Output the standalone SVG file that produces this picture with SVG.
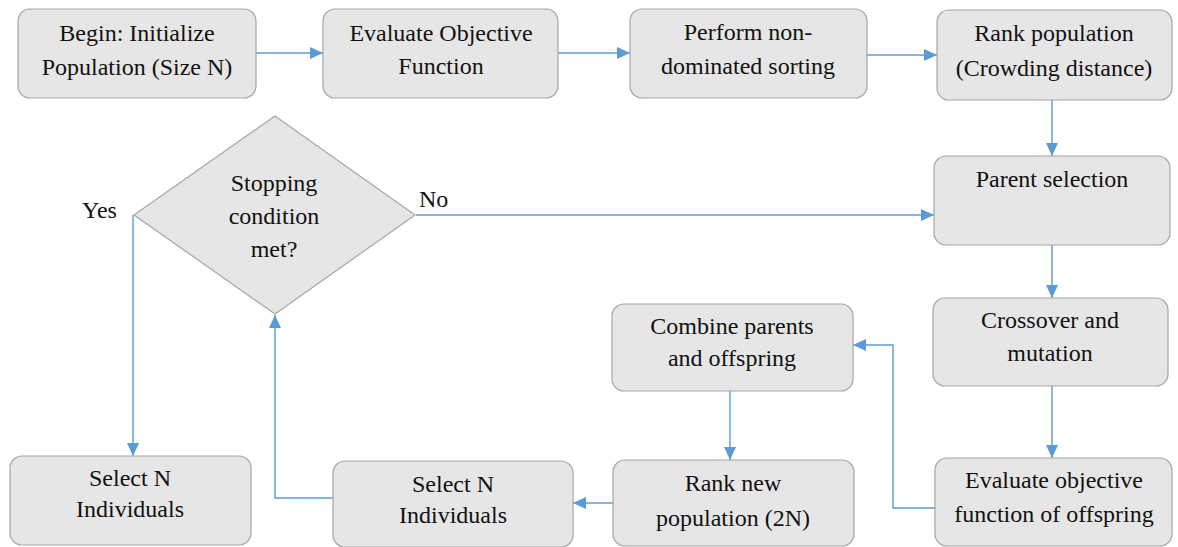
<svg xmlns="http://www.w3.org/2000/svg" width="1178" height="547" viewBox="0 0 1178 547">
  <style>
    .box { fill: #e6e6e6; stroke: #a6a6a6; stroke-width: 1.2; }
    .lbl { text-anchor: middle; }
    .link { fill: none; stroke: #5b9bd5; stroke-width: 1.4; }
  </style>
  <defs>
    <marker id="arrow" markerUnits="userSpaceOnUse" markerWidth="14" markerHeight="12" refX="13" refY="6" orient="auto">
      <path d="M0,0 L13,6 L0,12 Z" fill="#5b9bd5"/>
    </marker>
  </defs>
  <rect width="1178" height="547" fill="#ffffff"/>

  <!-- all labels share one serif stack -->
  <g font-family="'Liberation Serif', 'Times New Roman', serif" font-size="24" fill="#111">
  <g id="connectors">
    <line class="link" x1="256" y1="53" x2="323" y2="53" marker-end="url(#arrow)"/>
    <line class="link" x1="558" y1="53" x2="630" y2="53" marker-end="url(#arrow)"/>
    <line class="link" x1="867" y1="55" x2="937" y2="55" marker-end="url(#arrow)"/>
    <line class="link" x1="1052" y1="100" x2="1052" y2="156" marker-end="url(#arrow)"/>
    <line class="link" x1="416" y1="215" x2="934" y2="215" marker-end="url(#arrow)"/>
    <line class="link" x1="133" y1="215" x2="133" y2="456" marker-end="url(#arrow)"/>
    <line class="link" x1="1052" y1="245" x2="1052" y2="298" marker-end="url(#arrow)"/>
    <line class="link" x1="1052" y1="386" x2="1052" y2="458" marker-end="url(#arrow)"/>
    <polyline class="link" points="935,508 893,508 893,345 853,345" marker-end="url(#arrow)"/>
    <line class="link" x1="730" y1="391" x2="730" y2="460" marker-end="url(#arrow)"/>
    <line class="link" x1="613" y1="503" x2="573" y2="503" marker-end="url(#arrow)"/>
    <polyline class="link" points="333,498 275,498 275,315" marker-end="url(#arrow)"/>
    <text x="82" y="218">Yes</text>
    <text x="419" y="207">No</text>
  </g>

  <g id="init">
    <rect class="box" x="18" y="9" width="238" height="89" rx="12"/>
    <text class="lbl" x="137" y="41">Begin: Initialize</text>
    <text class="lbl" x="137" y="75">Population (Size N)</text>
  </g>
  <g id="evaluate">
    <rect class="box" x="323" y="9" width="235" height="89" rx="12"/>
    <text class="lbl" x="441" y="41">Evaluate Objective</text>
    <text class="lbl" x="441" y="74">Function</text>
  </g>
  <g id="sorting">
    <rect class="box" x="630" y="9" width="237" height="89" rx="12"/>
    <text class="lbl" x="748" y="40">Perform non-</text>
    <text class="lbl" x="748" y="74">dominated sorting</text>
  </g>
  <g id="rank">
    <rect class="box" x="937" y="10" width="235" height="90" rx="12"/>
    <text class="lbl" x="1054" y="41">Rank population</text>
    <text class="lbl" x="1054" y="76">(Crowding distance)</text>
  </g>
  <g id="parent">
    <rect class="box" x="934" y="156" width="236" height="89" rx="12"/>
    <text class="lbl" x="1052" y="187">Parent selection</text>
  </g>
  <g id="crossover">
    <rect class="box" x="933" y="298" width="235" height="88" rx="12"/>
    <text class="lbl" x="1050" y="328">Crossover and</text>
    <text class="lbl" x="1050" y="361">mutation</text>
  </g>
  <g id="eval-offspring">
    <rect class="box" x="935" y="458" width="237" height="88" rx="12"/>
    <text class="lbl" x="1054" y="488">Evaluate objective</text>
    <text class="lbl" x="1054" y="522">function of offspring</text>
  </g>
  <g id="combine">
    <rect class="box" x="612" y="304" width="241" height="87" rx="12"/>
    <text class="lbl" x="732" y="334">Combine parents</text>
    <text class="lbl" x="732" y="366">and offspring</text>
  </g>
  <g id="rank-new">
    <rect class="box" x="613" y="460" width="241" height="86" rx="12"/>
    <text class="lbl" x="733" y="491">Rank new</text>
    <text class="lbl" x="733" y="526">population (2N)</text>
  </g>
  <g id="select-mid">
    <rect class="box" x="333" y="461" width="240" height="86" rx="12"/>
    <text class="lbl" x="453" y="492">Select N</text>
    <text class="lbl" x="453" y="523">Individuals</text>
  </g>
  <g id="select-final">
    <rect class="box" x="10" y="456" width="241" height="89" rx="12"/>
    <text class="lbl" x="130" y="486">Select N</text>
    <text class="lbl" x="130" y="517">Individuals</text>
  </g>
  <g id="stop">
    <polygon class="box" points="275,116 415,215 275,314 134,215"/>
    <text class="lbl" x="274" y="191">Stopping</text>
    <text class="lbl" x="274" y="224">condition</text>
    <text class="lbl" x="274" y="257">met?</text>
  </g>
  </g>
</svg>
